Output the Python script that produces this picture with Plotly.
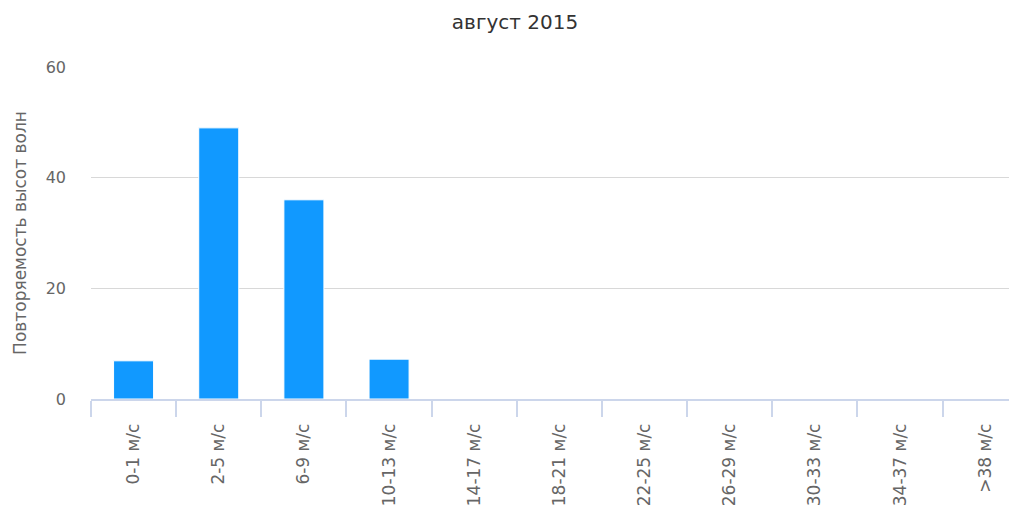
import plotly.graph_objects as go

categories = ["0-1 м/с", "2-5 м/с", "6-9 м/с", "10-13 м/с", "14-17 м/с", "18-21 м/с",
              "22-25 м/с", "26-29 м/с", "30-33 м/с", "34-37 м/с", ">38 м/с"]
values = [6.9, 49.0, 36.0, 7.2, 0, 0, 0, 0, 0, 0, 0]
y_ticks = [0, 20, 40, 60]

FONT = "DejaVu Sans, Verdana, sans-serif"

fig = go.Figure(go.Bar(
    x=categories, y=values,
    marker=dict(color="#1199ff", line=dict(color="#ffffff", width=1)),
    hoverinfo="x+y",
))

fig.update_layout(
    width=1009, height=499,
    margin=dict(l=83, r=2, t=59, b=108),
    paper_bgcolor="white", plot_bgcolor="white",
    bargap=0.53,
    showlegend=False,
    font=dict(family=FONT, color="#666666"),
    title=dict(text="август 2015", x=0.5025, xanchor="center", y=0.972, yanchor="middle",
               font=dict(family=FONT, size=20, color="#333333"), automargin=False),
)

fig.update_xaxes(
    type="category",
    range=[-0.5, 10.35],
    tickangle=-90,
    tickfont=dict(size=17, color="#666666"),
    ticks="outside", tickson="boundaries", ticklen=16, tickcolor="#ccd6eb", tickwidth=2,
    ticklabelstandoff=16,
    showline=True, linecolor="#ccd6eb", linewidth=1.5,
    showgrid=False, zeroline=False,
    automargin=False,
)

fig.update_yaxes(
    range=[0, 60],
    tickvals=y_ticks,
    tickfont=dict(size=16, color="#666666"),
    ticklabelstandoff=24,
    showgrid=True, gridcolor="#d8d8d8", gridwidth=1,
    zeroline=False, showline=False,
    title=dict(text="Повторяемость высот волн", font=dict(size=17, color="#666666"), standoff=14),
    automargin=False,
)

fig.write_html("out.html")
